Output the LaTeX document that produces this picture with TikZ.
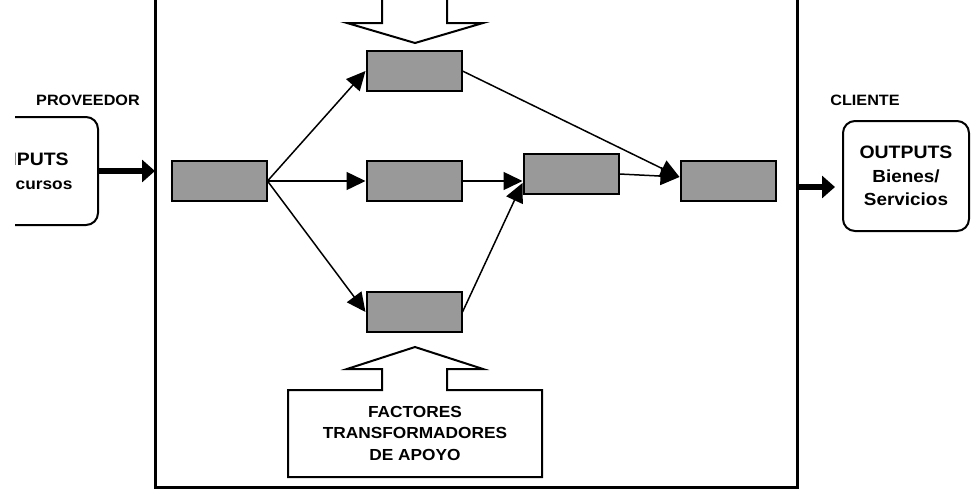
\documentclass[tikz,border=0pt]{standalone}
\usepackage{fontspec}
\setmainfont{Liberation Sans}[FakeStretch=1.08]
\usetikzlibrary{arrows.meta}
\definecolor{boxgray}{RGB}{153,153,153}

\begin{document}
\begin{tikzpicture}[%
      x=1pt, y=-1pt,
      caja/.style={draw, line width=2pt, fill=boxgray, minimum width=95pt,
        minimum height=40pt, inner sep=0pt},
      flecha/.style={line width=1.5pt, -{Triangle[length=19pt,width=18pt]}},
      gruesa/.style={line width=6pt, -{Triangle[length=13pt,width=22pt]}},
      redondo/.style={draw, line width=2pt, rounded corners=12pt, align=center,
        inner sep=0pt, font=\bfseries\fontsize{16}{24}\selectfont},
      etiqueta/.style={font=\bfseries\fontsize{15}{18}\selectfont},
      ]
      \useasboundingbox (0,0) rectangle (971,490);
      \coordinate (fl) at (155,0);
      \coordinate (fr) at (797,0);
      \draw [line width=3pt] (155,-5) -- (155,487) -- (797,487) -- (797,-5);

      \begin{scope}
        \clip (15,0) rectangle (971,490);
        \node [redondo, minimum width=130pt, minimum height=108pt] (ent) at (33,171)
          {{\fontsize{18}{24}\selectfont INPUTS}\\Recursos};
      \end{scope}
      \node [redondo, minimum width=126pt, minimum height=110pt,
        font=\bfseries\fontsize{17.5}{23.5}\selectfont] (sal) at (906,176)
        {{\fontsize{18}{23.5}\selectfont OUTPUTS}\\Bienes/\\Servicios};
      \node [etiqueta] (prov) at (88,100) {PROVEEDOR};
      \node [etiqueta] (cli) at (865,100) {CLIENTE};

      \node [caja] (b1) at (219,181) {};
      \node [caja] (b2) at (414,71) {};
      \node [caja] (b3) at (414,181) {};
      \node [caja] (b4) at (414,312) {};
      \node [caja] (b5) at (571,174) {};
      \node [caja] (b6) at (728,181) {};

      \draw [flecha] (b1.east) -- (b2.west);
      \draw [flecha] (b1.east) -- (b3.west);
      \draw [flecha] (b1.east) -- (b4.west);
      \draw [flecha] (b2.east) -- ([yshift=4pt]b6.west);
      \draw [flecha] (b3.east) -- (b3.east -| b5.west);
      \draw [flecha] (b4.east) -- ([yshift=-9pt]b5.west);
      \draw [flecha] (b5.east) -- ([yshift=4pt]b6.west);

      \draw [gruesa] (ent.east) -- (ent.east -| fl);
      \coordinate (sal-in) at ([xshift=-7pt,yshift=-11pt]sal.west);
      \draw [gruesa] (sal-in -| fr) -- (sal-in);

      % flecha de arriba
      \draw [line width=2pt] (382,-5) -- (382,23) -- (347,23) -- (415,43)
        -- (483,23) -- (447,23) -- (447,-5);
      % factores de apoyo
      \draw [line width=2pt] (288,390) -- (382,390) -- (382,369) -- (347,369)
        -- (415,347) -- (483,369) -- (447,369) -- (447,390) -- (542,390)
        -- (542,477) -- (288,477) -- cycle;
      \node [align=center, font=\bfseries\fontsize{16}{21.5}\selectfont] (fac)
        at (415,433) {FACTORES\\TRANSFORMADORES\\DE APOYO};
      \end{tikzpicture}
\end{document}
